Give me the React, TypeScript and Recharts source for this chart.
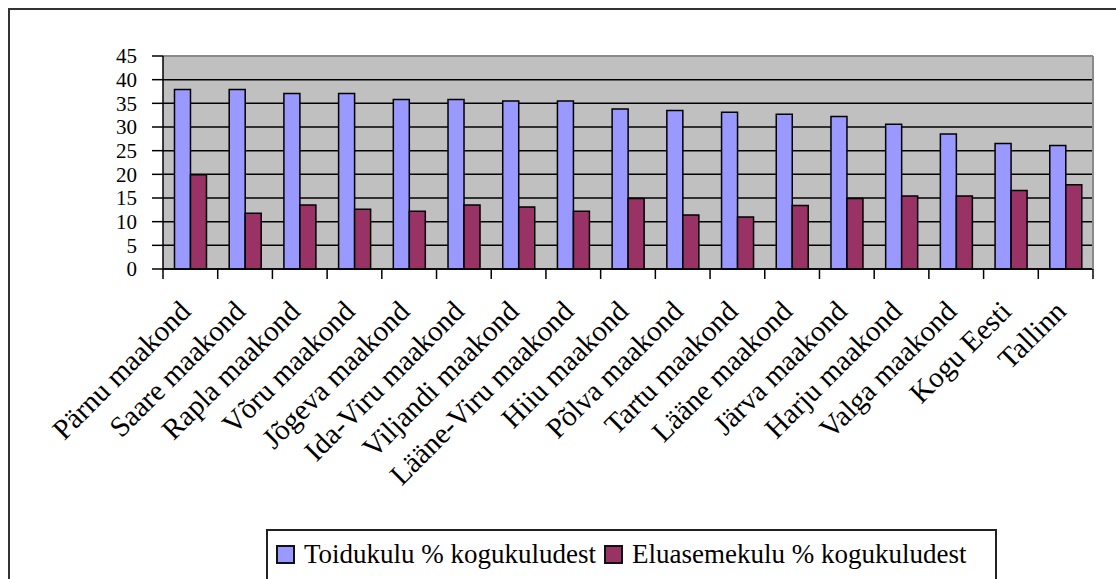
import React from 'react';
import { BarChart, Bar, XAxis, YAxis, CartesianGrid, Legend, ReferenceLine } from 'recharts';

const categories = [
  'Pärnu maakond', 'Saare maakond', 'Rapla maakond', 'Võru maakond', 'Jõgeva maakond',
  'Ida-Viru maakond', 'Viljandi maakond', 'Lääne-Viru maakond', 'Hiiu maakond', 'Põlva maakond',
  'Tartu maakond', 'Lääne maakond', 'Järva maakond', 'Harju maakond', 'Valga maakond',
  'Kogu Eesti', 'Tallinn',
];
const toidukulu = [37.9, 37.9, 37.1, 37.1, 35.8, 35.8, 35.5, 35.5, 33.8, 33.5, 33.1, 32.7, 32.2, 30.6, 28.5, 26.5, 26.1];
const eluasemekulu = [19.9, 11.8, 13.5, 12.6, 12.2, 13.5, 13.1, 12.2, 14.9, 11.4, 11.0, 13.4, 14.9, 15.4, 15.4, 16.6, 17.8];
const seriesNames = ['Toidukulu % kogukuludest', 'Eluasemekulu % kogukuludest'];
const yTicks = [0, 5, 10, 15, 20, 25, 30, 35, 40, 45];

const data = categories.map((c, i) => ({ name: c, a: toidukulu[i], b: eluasemekulu[i] }));

const FONT = '"Liberation Serif", "Times New Roman", serif';
const PLOT_W = 930;
const HALF_BAND = PLOT_W / categories.length / 2;

const XTick = (props: any) => {
  const { x, y, payload, index } = props;
  const ax = x + 2;
  const ay = y + 44;
  const last = index === categories.length - 1;
  return (
    <g>
      <line x1={x - HALF_BAND} x2={x - HALF_BAND} y1={y} y2={y + 10} stroke="#000" strokeWidth={1.5} />
      {last && <line x1={x + HALF_BAND} x2={x + HALF_BAND} y1={y} y2={y + 10} stroke="#000" strokeWidth={1.5} />}
      <text x={ax} y={ay} transform={`rotate(-45 ${ax} ${ay})`} textAnchor="end" fontFamily={FONT} fontSize={29} fill="#000">
        {payload.value}
      </text>
    </g>
  );
};

const LegendBox = (props: any) => {
  const items = [...(props.payload || [])].sort(
    (p: any, q: any) => seriesNames.indexOf(p.value) - seriesNames.indexOf(q.value)
  );
  return (
    <div style={{ border: '2px solid #222', boxSizing: 'border-box', width: 731, height: 54, display: 'flex', alignItems: 'center', paddingLeft: 8, paddingBottom: 4, background: '#fff', fontFamily: FONT, fontSize: 27, color: '#000' }}>
      {items.map((p: any, i: number) => (
        <div key={i} style={{ display: 'flex', alignItems: 'center', marginRight: 8 }}>
          <span style={{ display: 'inline-block', width: 19, height: 19, boxSizing: 'border-box', border: '2px solid #111', background: p.color, marginRight: 9 }} />
          <span style={{ whiteSpace: 'nowrap' }}>{p.value}</span>
        </div>
      ))}
    </div>
  );
};

export default function App() {
  return (
    <div style={{ position: 'fixed', left: 8, top: 8, width: 1108, height: 571, boxSizing: 'border-box', borderLeft: '2px solid #333', borderTop: '2px solid #333', overflow: 'hidden', background: '#fff' }}>
      <BarChart width={1106} height={569} data={data} margin={{ top: 46, right: 0, bottom: 10, left: 93 }} barCategoryGap="21%" barGap={0}>
        <CartesianGrid vertical={false} fill="#C0C0C0" stroke="#000" strokeWidth={1.5} yAxisId="left" />
        <XAxis dataKey="name" interval={0} height={300} tickSize={0} tickMargin={0} tickLine={false} axisLine={{ stroke: '#000', strokeWidth: 1.5 }} tick={<XTick />} />
        <YAxis yAxisId="left" domain={[0, 45]} ticks={yTicks} interval={0} width={60} tickSize={11} tickMargin={15}
          axisLine={{ stroke: '#000', strokeWidth: 1.5 }} tickLine={{ stroke: '#000', strokeWidth: 1.5 }}
          tick={{ fontFamily: FONT, fontSize: 21, fill: '#000' }} />
        <YAxis yAxisId="right" orientation="right" domain={[0, 45]} width={23} tick={false} tickLine={false} axisLine={{ stroke: '#8a8a8a', strokeWidth: 2 }} />
        <ReferenceLine yAxisId="left" y={45} stroke="#8a8a8a" strokeWidth={2} />
        <Bar yAxisId="left" dataKey="a" name={seriesNames[0]} fill="#9999FF" stroke="#000" strokeWidth={1.5} isAnimationActive={false} />
        <Bar yAxisId="left" dataKey="b" name={seriesNames[1]} fill="#993366" stroke="#000" strokeWidth={1.5} isAnimationActive={false} />
        <Legend layout="horizontal" verticalAlign="middle" align="center" content={<LegendBox />} wrapperStyle={{ left: 256, top: 519, width: 731, height: 54 }} />
      </BarChart>
    </div>
  );
}
